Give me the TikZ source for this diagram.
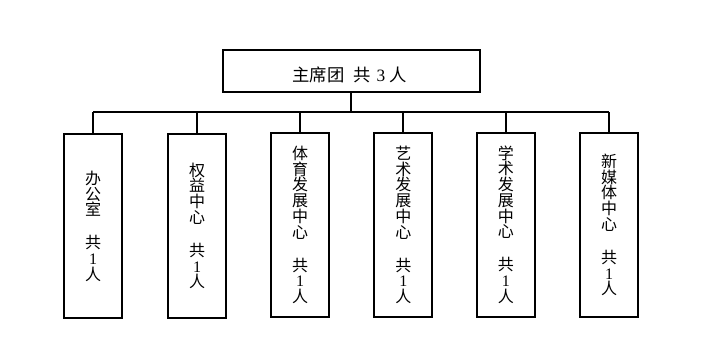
\documentclass[tikz,border=0pt]{standalone}
\usepackage{fontspec}
\newfontfamily\cjk{Noto Sans CJK SC}
\newfontfamily\lat{Liberation Serif}
\newcommand{\dg}[1]{{\lat #1}}
\tikzset{
  unitbox/.style={draw, line width=1.5pt, inner sep=0pt, align=center,
    minimum width=58*0.75pt, minimum height=184*0.75pt,
    font=\cjk\fontsize{12pt}{11.8pt}\selectfont},
  topbox/.style={draw, line width=1.5pt, inner sep=0pt,
    minimum width=257*0.75pt, minimum height=42*0.75pt},
  thinline/.style={line width=0.8pt},
  thickline/.style={line width=1.5pt}
}
\begin{document}
\begin{tikzpicture}[x=0.75pt,y=-0.75pt]
\useasboundingbox (0,0) rectangle (701,358);
\node[topbox] (top) at (351,70.5) {};
\node[font=\cjk\fontsize{13pt}{15pt}\selectfont, inner sep=0pt] (toptext) at (349.5,75) {主席团\hspace{7pt}共\hspace{4pt}\dg{3}\hspace{3pt}人};
\coordinate (bus) at (351,112);
\node[unitbox] (b1) at (93,226.3) {办\\公\\室\\[13pt]共\\\dg{1}\\人};
\node[unitbox] (b2) at (197.2,226) {权\\益\\中\\心\\[13pt]共\\\dg{1}\\人};
\node[unitbox] (b3) at (300,225) {体\\育\\发\\展\\中\\心\\[13pt]共\\\dg{1}\\人};
\node[unitbox] (b4) at (403.3,225) {艺\\术\\发\\展\\中\\心\\[13pt]共\\\dg{1}\\人};
\node[unitbox] (b5) at (505.8,224.5) {学\\术\\发\\展\\中\\心\\[13pt]共\\\dg{1}\\人};
\node[unitbox] (b6) at (609.2,225) {新\\媒\\体\\中\\心\\[13pt]共\\\dg{1}\\人};
\draw[thinline] (top.south) -- (top.south |- bus);
\draw[thinline] (b1.north |- bus) -- (b6.north |- bus);
\foreach \b in {b1,b2,b3,b4,b5,b6}
  \draw[thickline] (\b.north) -- (\b.north |- bus);
\end{tikzpicture}
\end{document}
